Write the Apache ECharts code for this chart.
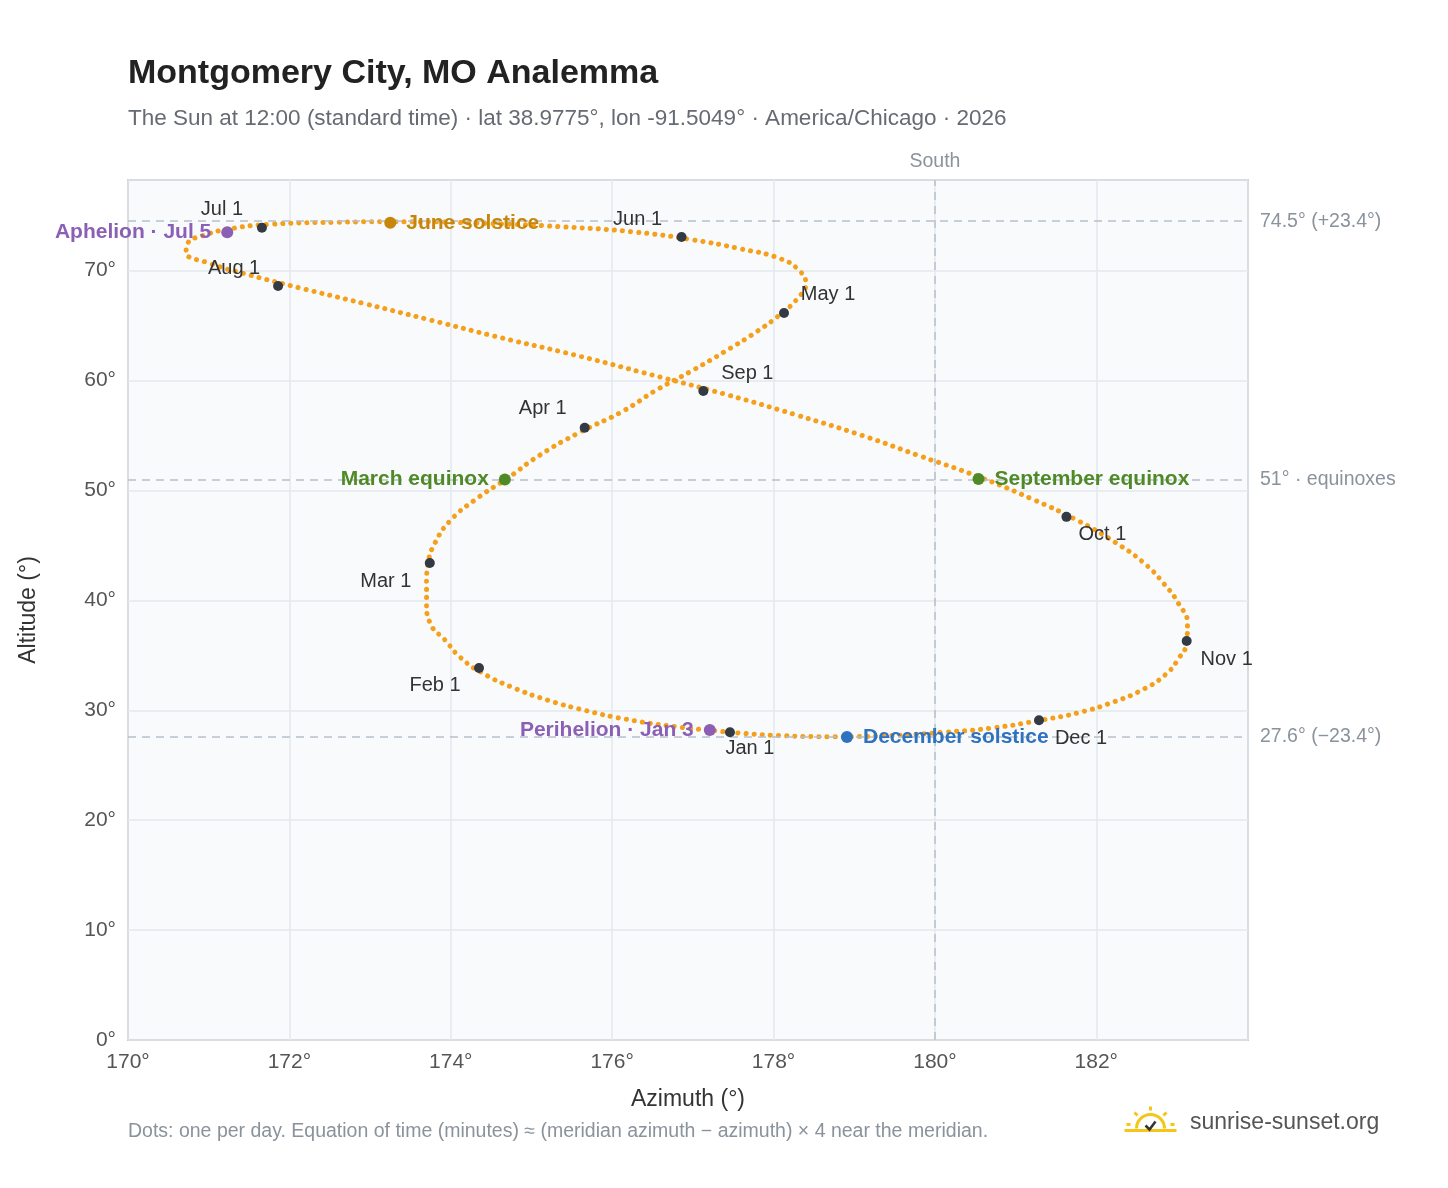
<!DOCTYPE html>
<html><head><meta charset="utf-8">
<script src="https://cdn.jsdelivr.net/npm/echarts@6/dist/echarts.min.js"></script>
<style>html,body{margin:0;padding:0;background:#fff}#c{width:1448px;height:1188px}</style>
</head><body><div id="c"></div>
<script>
// Sun positions (every ~5 days): [azimuth, altitude]
const sunPath = [
[177.47,28.0],[176.80,28.5],[176.16,29.2],[175.66,30.0],[175.21,30.9],[174.76,32.1],[174.39,33.4],
[174.12,34.8],[173.94,36.3],[173.74,38.0],[173.70,39.7],[173.70,41.5],[173.72,43.4],[173.81,45.3],
[174.00,47.3],[174.31,49.2],[174.72,51.2],[175.10,53.2],[175.60,55.3],[176.13,57.2],[176.54,59.1],
[176.99,60.9],[177.41,62.7],[177.78,64.4],[178.08,66.0],[178.30,67.5],[178.40,68.8],[178.32,70.0],
[178.08,71.1],[177.58,72.0],[177.00,72.8],[176.30,73.5],[175.36,74.0],[174.43,74.3],[173.44,74.46],
[172.56,74.4],[171.73,74.2],[171.26,73.8],[170.93,73.2],[170.74,72.5],[170.72,71.7],[171.00,70.7],
[171.51,69.6],[172.20,68.3],[172.93,67.0],[173.75,65.5],[174.62,63.9],[175.55,62.3],[176.50,60.5],
[177.43,58.7],[178.27,56.9],[179.10,55.0],[179.83,53.1],[180.56,51.2],[181.21,49.2],[181.76,47.3],
[182.23,45.3],[182.59,43.4],[182.84,41.5],[183.02,39.7],[183.13,37.9],[183.12,36.2],[183.02,34.7],
[182.85,33.2],[182.58,31.9],[182.23,30.8],[181.79,29.8],[181.31,29.1],[180.72,28.4],[180.11,28.0],
[179.45,27.7],[178.76,27.6],[178.07,27.7],[177.47,28.0]
];
const monthNames = ["Jan 1","Feb 1","Mar 1","Apr 1","May 1","Jun 1","Jul 1","Aug 1","Sep 1","Oct 1","Nov 1","Dec 1"];
const monthPoints = [[177.46,28.0],[174.35,33.85],[173.74,43.4],[175.66,55.7],[178.13,66.15],[176.86,73.07],
[171.66,73.9],[171.86,68.6],[177.13,59.05],[181.63,47.6],[183.12,36.3],[181.29,29.1]];
const eventNames = ["March equinox","June solstice","September equinox","December solstice","Aphelion · Jul 5","Perihelion · Jan 3"];
const eventPoints = [[174.67,51.0],[173.25,74.35],[180.54,51.05],[178.91,27.57],[171.23,73.5],[177.21,28.2]];
const refLines = [[74.5,"74.5° (+23.4°)"],[51,"51° · equinoxes"],[27.6,"27.6° (−23.4°)"]];

const F = 'Liberation Sans, Arial, sans-serif';
const mLabelPos = [[20,16],[-44,18],[-44,18],[-42,-19],[44,-18],[-44,-17],[-40,-18],[-44,-18],[44,-18],[36,18],[40,18],[42,18]];
const evColor = ['#4f8a26','#c7860a','#4f8a26','#2f72c0','#8a5fb4','#8a5fb4'];
const evLeft = [true,false,false,false,true,true];

const chart = echarts.init(document.getElementById('c'));
chart.setOption({
  animation:false,
  title:[{text:'Montgomery City, MO Analemma',left:123,top:52,textStyle:{fontFamily:F,fontSize:34,fontWeight:'bold',color:'#222'}},
         {text:'The Sun at 12:00 (standard time) · lat 38.9775°, lon -91.5049° · America/Chicago · 2026',left:123,top:102,textStyle:{fontFamily:F,fontSize:22.5,fontWeight:'normal',color:'#666a72'}}],
  grid:{left:128,right:200,top:180,bottom:148,show:true,backgroundColor:'#f8fafc',borderColor:'#9aa5b1',borderWidth:1.5},
  xAxis:{type:'value',min:170,max:183.88,interval:2,name:'Azimuth (°)',nameLocation:'middle',nameGap:48,
    nameTextStyle:{fontFamily:F,fontSize:23,color:'#333'},
    axisLine:{show:false},axisTick:{show:false},
    axisLabel:{fontFamily:F,fontSize:21,color:'#555',margin:12,showMaxLabel:false,formatter:v=>v+'°'},
    splitLine:{lineStyle:{color:'#e3e8ee',width:1.5}}},
  yAxis:{type:'value',min:0,max:78.25,interval:10,name:'Altitude (°)',nameLocation:'middle',nameGap:88,
    nameTextStyle:{fontFamily:F,fontSize:23,color:'#333'},
    axisLine:{show:false},axisTick:{show:false},
    axisLabel:{fontFamily:F,fontSize:21,color:'#555',margin:12,showMaxLabel:false,formatter:v=>v+'°'},
    splitLine:{lineStyle:{color:'#e3e8ee',width:1.5}}},
  series:[
    {type:'line',data:sunPath,smooth:0.5,symbol:'none',
     lineStyle:{color:'#f5a01a',width:5,type:[0.1,8],cap:'round'},
     markLine:{silent:true,symbol:'none',
       lineStyle:{color:'#b5c0cb',type:[8,6],width:1.5},
       label:{fontFamily:F,fontSize:19.5,color:'#8a929c',position:'end',distance:12},
       data:refLines.map(r=>({yAxis:r[0],label:{formatter:r[1]}})).concat([{xAxis:180,label:{formatter:'South',position:'end',distance:8}}])}},
    {type:'scatter',data:monthPoints.map((p,i)=>({value:p,label:{show:true,formatter:monthNames[i],offset:mLabelPos[i]}})),
     symbolSize:10,itemStyle:{color:'#343a44',opacity:1},z:5,
     label:{position:'inside',fontFamily:F,fontSize:20,color:'#333'}},
    {type:'scatter',data:eventPoints.map((p,i)=>({value:p,itemStyle:{color:evColor[i],opacity:1},
       label:{show:true,formatter:eventNames[i],position:evLeft[i]?'left':'right',distance:10,color:evColor[i]}})),
     symbolSize:12,z:6,label:{fontFamily:F,fontSize:21,fontWeight:'bold'}}
  ],
  graphic:[
    {type:'text',left:128,top:1122,style:{text:'Dots: one per day. Equation of time (minutes) ≈ (meridian azimuth − azimuth) × 4 near the meridian.',font:'19.5px '+F,fill:'#8a929c'}},
    {type:'text',left:1190,top:1111,style:{text:'sunrise-sunset.org',font:'23px '+F,fill:'#555'}},
    {type:'group',left:1122,top:1104,children:[
      {type:'arc',shape:{cx:26,cy:24,r:14,startAngle:Math.PI,endAngle:0,clockwise:true},style:{stroke:'#f5c518',lineWidth:3,fill:null}},
      {type:'line',shape:{x1:26,y1:2,x2:26,y2:6},style:{stroke:'#f5c518',lineWidth:3}},
      {type:'line',shape:{x1:10,y1:8,x2:13,y2:11},style:{stroke:'#f5c518',lineWidth:3}},
      {type:'line',shape:{x1:42,y1:8,x2:39,y2:11},style:{stroke:'#f5c518',lineWidth:3}},
      {type:'line',shape:{x1:2,y1:20,x2:6,y2:20},style:{stroke:'#f5c518',lineWidth:3}},
      {type:'line',shape:{x1:46,y1:20,x2:50,y2:20},style:{stroke:'#f5c518',lineWidth:3}},
      {type:'line',shape:{x1:0,y1:26,x2:52,y2:26},style:{stroke:'#f5c518',lineWidth:3}},
      {type:'polyline',shape:{points:[[21,21],[25,25],[31,17]]},style:{stroke:'#333',lineWidth:2.5,fill:null}}
    ]}
  ]
});
</script></body></html>
